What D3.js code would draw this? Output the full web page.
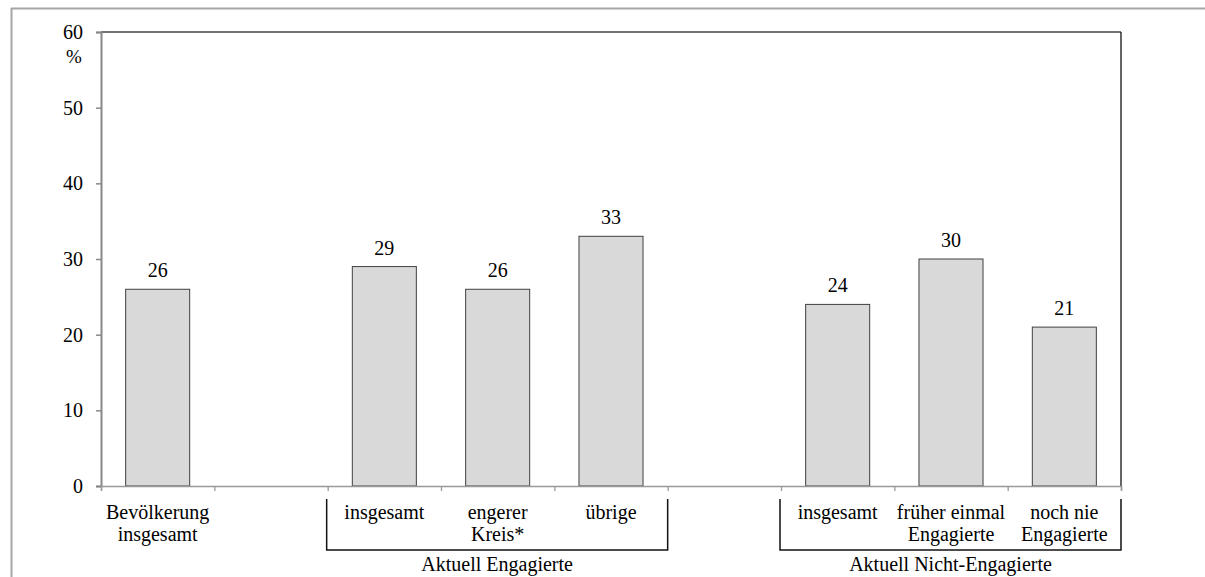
<!DOCTYPE html>
<html>
<head>
<meta charset="utf-8">
<script src="https://cdn.jsdelivr.net/npm/d3@7"></script>
<style>
  html, body { margin: 0; padding: 0; background: #fff; }
  svg text { font-family: "Times New Roman", "Liberation Serif", Times, serif !important; }
</style>
</head>
<body>
<svg id="chart" width="1205" height="577" style="display:block"></svg>
<script>
// ---- data ----
const categories = ["Bevölkerung\ninsgesamt", "", "insgesamt", "engerer\nKreis*", "übrige", "", "insgesamt", "früher einmal\nEngagierte", "noch nie\nEngagierte"];
const values = [26, null, 29, 26, 33, null, 24, 30, 21];
const yTicks = [0, 10, 20, 30, 40, 50, 60];
const groupLabels = ["Aktuell Engagierte", "Aktuell Nicht-Engagierte"];
const groupStart = [2, 6];
const groupEnd = [4, 8];
const unitLabel = "%";

// ---- layout ----
const FONT = "Times New Roman, Liberation Serif, serif";
const svg = d3.select("#chart");
const pLeft = 101, pRight = 1121, pTop = 32, pBottom = 486;

const x = d3.scaleBand().domain(d3.range(categories.length)).range([pLeft, pRight]).paddingInner(0).paddingOuter(0);
const xb = d3.scaleLinear().domain([0, categories.length]).range([pLeft, pRight]);
const y = d3.scaleLinear().domain([0, 60]).range([pBottom, pTop]);
const barW = x.bandwidth() * 0.565;

// outer frame
svg.append("line").attr("x1", 11).attr("x2", 1205).attr("y1", 8.5).attr("y2", 8.5).attr("stroke", "#a6a6a6").attr("stroke-width", 2);
svg.append("line").attr("x1", 11.5).attr("x2", 11.5).attr("y1", 8).attr("y2", 577).attr("stroke", "#a6a6a6").attr("stroke-width", 2);

// plot frame top & right
svg.append("line").attr("x1", pLeft).attr("x2", pRight).attr("y1", pTop).attr("y2", pTop).attr("stroke", "#444").attr("stroke-width", 1.3);
svg.append("line").attr("x1", pRight).attr("x2", pRight).attr("y1", pTop).attr("y2", pBottom).attr("stroke", "#111").attr("stroke-width", 1.3);

// bars
const data = values.map((v, i) => ({i, v})).filter(d => d.v !== null);
svg.append("g").selectAll("rect").data(data).join("rect")
  .attr("x", d => x(d.i) + (x.bandwidth() - barW) / 2)
  .attr("y", d => y(d.v))
  .attr("width", barW)
  .attr("height", d => y(0) - y(d.v))
  .attr("fill", "#d9d9d9")
  .attr("stroke", "#404040")
  .attr("stroke-width", 1);

// value labels
svg.append("g").selectAll("text").data(data).join("text")
  .attr("x", d => x(d.i) + x.bandwidth() / 2)
  .attr("y", d => y(d.v) - 12)
  .attr("text-anchor", "middle")
  .attr("font-family", FONT)
  .attr("font-size", 20)
  .attr("fill", "#000")
  .text(d => d.v);

// y axis
const yAxis = svg.append("g").attr("transform", `translate(${pLeft},0)`)
  .call(d3.axisLeft(y).tickValues(yTicks).tickSize(5).tickPadding(13));
yAxis.attr("font-family", FONT).attr("font-size", 20);
yAxis.select(".domain").attr("stroke", "#888").attr("stroke-width", 2);
yAxis.selectAll(".tick line").attr("stroke", "#888").attr("stroke-width", 1.5);
yAxis.selectAll(".tick text").attr("font-size", 20).attr("font-family", FONT).attr("fill", "#000");

svg.append("text").attr("x", 66).attr("y", 63).attr("font-family", FONT).attr("font-size", 19).attr("fill", "#000").text(unitLabel);

// x axis (slot boundaries)
const xAxis = svg.append("g").attr("transform", `translate(0,${pBottom})`)
  .call(d3.axisBottom(xb).tickValues(d3.range(categories.length + 1)).tickSize(5).tickFormat(""));
xAxis.select(".domain").attr("stroke", "#999").attr("stroke-width", 1.5);
xAxis.selectAll(".tick line").attr("stroke", "#999").attr("stroke-width", 1.3);

// category labels
const catG = svg.append("g");
categories.forEach((c, i) => {
  if (!c) return;
  const t = catG.append("text")
    .attr("x", x(i) + x.bandwidth() / 2)
    .attr("y", 519)
    .attr("text-anchor", "middle")
    .attr("font-family", FONT)
    .attr("font-size", 20)
    .attr("fill", "#000");
  c.split("\n").forEach((line, k) => {
    t.append("tspan").attr("x", x(i) + x.bandwidth() / 2).attr("dy", k === 0 ? 0 : 22).text(line);
  });
});

// group brackets
groupLabels.forEach((g, k) => {
  const x1 = x(groupStart[k]) - 1, x2 = x(groupEnd[k]) + x.bandwidth();
  svg.append("path")
    .attr("d", `M${x1},499 V550 H${x2} V499`)
    .attr("fill", "none")
    .attr("stroke", "#111")
    .attr("stroke-width", 1.5);
  svg.append("text")
    .attr("x", (x1 + x2) / 2)
    .attr("y", 571)
    .attr("text-anchor", "middle")
    .attr("font-family", FONT)
    .attr("font-size", 20)
    .attr("fill", "#000")
    .text(g);
});
</script>
</body>
</html>
